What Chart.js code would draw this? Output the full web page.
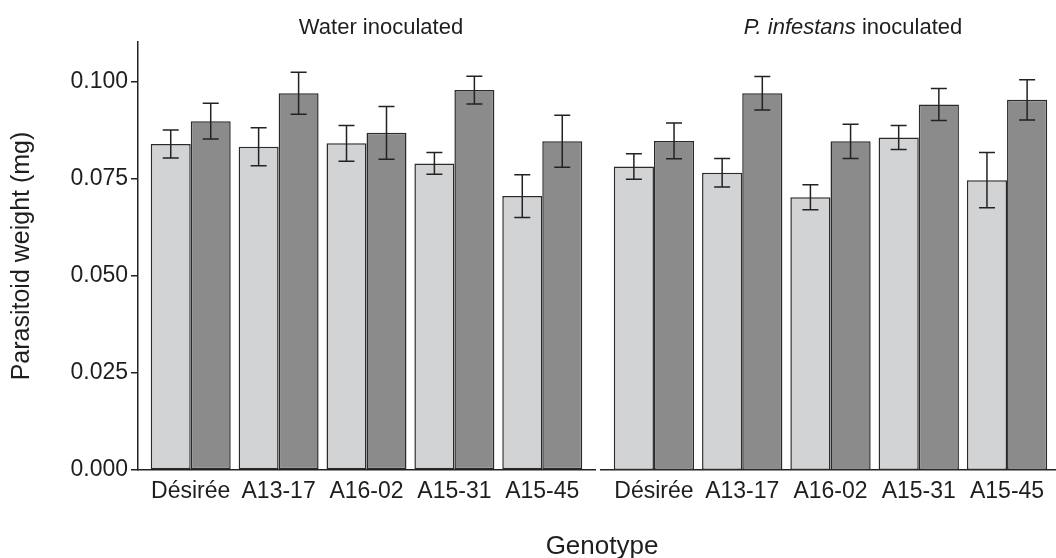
<!DOCTYPE html>
<html lang="en">
<head>
    <meta charset="UTF-8">
    <title>Parasitoid weight by genotype</title>
    <style>
        body { margin: 0; background: #fff; font-family: 'Liberation Sans', Arial, sans-serif; overflow: hidden; }
        #wrap { position: relative; width: 1056px; height: 558px; overflow: hidden; }
        canvas { position: absolute; top: 0; }
        #leftChart { left: 0; }
        #rightChart { left: 599px; }
        .label { position: absolute; color: #1e1e1e; white-space: nowrap; transform: translate(-50%, -50%); }
        .strip { font-size: 22px; top: 27px; }
        #xTitle { font-size: 26px; left: 602px; top: 545px; }
    </style>
</head>
<body>

<div id="wrap">
    <canvas id="leftChart" width="597" height="558"></canvas>
    <canvas id="rightChart" width="463" height="558"></canvas>
    <div class="label strip" style="left: 381px;">Water inoculated</div>
    <div class="label strip" style="left: 853px;"><i>P. infestans</i> inoculated</div>
    <div class="label" id="xTitle">Genotype</div>
</div>

<script src="https://cdn.jsdelivr.net/npm/chart.js"></script>
<script>
  const genotypes = ['Désirée', 'A13-17', 'A16-02', 'A15-31', 'A15-45'];
  const yTicks = [0, 0.025, 0.05, 0.075, 0.1];

  // water inoculated panel
  const waterLight = [0.0840, 0.0833, 0.0842, 0.0790, 0.0706];
  const waterLightErr = [0.0036, 0.0049, 0.0046, 0.0028, 0.0055];
  const waterDark = [0.0899, 0.0971, 0.0869, 0.0979, 0.0847];
  const waterDarkErr = [0.0046, 0.0054, 0.0068, 0.0036, 0.0067];

  // P. infestans inoculated panel
  const infLight = [0.0782, 0.0766, 0.0703, 0.0857, 0.0747];
  const infLightErr = [0.0033, 0.0037, 0.0032, 0.0031, 0.0071];
  const infDark = [0.0848, 0.0971, 0.0847, 0.0942, 0.0954];
  const infDarkErr = [0.0046, 0.0043, 0.0044, 0.0041, 0.0052];

  const LIGHT = '#d2d3d5';
  const DARK = '#8b8b8b';
  const INK = '#222';

  // draws the +/- error whiskers on top of each bar
  const errorBars = {
    id: 'errorBars',
    afterDatasetsDraw(chart) {
      const ctx = chart.ctx;
      const y = chart.scales.y;
      ctx.save();
      ctx.strokeStyle = INK;
      ctx.lineWidth = 1.5;
      chart.data.datasets.forEach((ds, d) => {
        const meta = chart.getDatasetMeta(d);
        meta.data.forEach((bar, i) => {
          const v = ds.data[i].y;
          const e = ds.errors[i];
          const top = y.getPixelForValue(v + e);
          const bot = y.getPixelForValue(v - e);
          ctx.beginPath();
          ctx.moveTo(bar.x, top);
          ctx.lineTo(bar.x, bot);
          ctx.moveTo(bar.x - 8, top);
          ctx.lineTo(bar.x + 8, top);
          ctx.moveTo(bar.x - 8, bot);
          ctx.lineTo(bar.x + 8, bot);
          ctx.stroke();
        });
      });
      ctx.restore();
    }
  };

  function toPoints(values) {
    return values.map((v, i) => ({ x: i, y: v }));
  }

  function makeDataset(values, errors, color) {
    return {
      data: toPoints(values),
      errors: errors,
      backgroundColor: color,
      borderColor: '#2a2a2a',
      borderWidth: 1.5,
      borderSkipped: false,
      categoryPercentage: 0.91,
      barPercentage: 1.0
    };
  }

  function makeChart(id, light, lightErr, dark, darkErr, showY, padLeft) {
    return new Chart(document.getElementById(id), {
      type: 'bar',
      data: {
        datasets: [makeDataset(light, lightErr, LIGHT), makeDataset(dark, darkErr, DARK)]
      },
      plugins: [errorBars],
      options: {
        responsive: false,
        animation: false,
        devicePixelRatio: 1,
        layout: { padding: { top: 42, left: padLeft, right: 2, bottom: 0 } },
        plugins: { legend: { display: false }, tooltip: { enabled: false } },
        scales: {
          x: {
            type: 'linear',
            min: -0.6,
            max: 4.6,
            offset: false,
            afterBuildTicks: (scale) => { scale.ticks = genotypes.map((g, i) => ({ value: i })); },
            afterFit: (scale) => { scale.height = 88; },
            grid: { display: false, drawTicks: false, offset: false },
            border: { display: true, color: INK, width: 1.5 },
            ticks: {
              color: '#1e1e1e',
              padding: 8,
              maxRotation: 0,
              autoSkip: false,
              font: { family: "'Liberation Sans', Arial, sans-serif", size: 23 },
              callback: (v) => genotypes[v]
            }
          },
          y: {
            display: showY,
            min: 0,
            max: 0.1103,
            afterBuildTicks: (scale) => { scale.ticks = yTicks.map(v => ({ value: v })); },
            afterFit: (scale) => { scale.width = showY ? 138 : 0; },
            grid: { drawOnChartArea: false, drawTicks: true, tickLength: 7, color: INK, lineWidth: 1.5 },
            border: { display: true, color: INK, width: 1.5 },
            ticks: {
              color: '#1e1e1e',
              padding: 3,
              font: { family: "'Liberation Sans', Arial, sans-serif", size: 23 },
              callback: (v) => v.toFixed(3)
            },
            title: {
              display: true,
              text: 'Parasitoid weight (mg)',
              color: '#1e1e1e',
              padding: { top: 7, bottom: 0 },
              font: { family: "'Liberation Sans', Arial, sans-serif", size: 25 }
            }
          }
        }
      }
    });
  }

  makeChart('leftChart', waterLight, waterLightErr, waterDark, waterDarkErr, true, 0);
  makeChart('rightChart', infLight, infLightErr, infDark, infDarkErr, false, 2);
</script>

</body>
</html>
